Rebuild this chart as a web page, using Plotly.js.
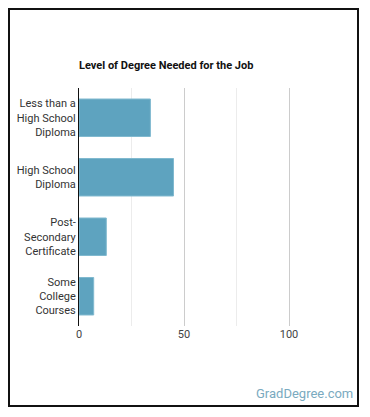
<!DOCTYPE html>
<html>
<head>
<meta charset="utf-8">
<script src="https://cdn.plot.ly/plotly-3.0.1.min.js"></script>
<style>
html,body{margin:0;padding:0;background:#fff;}
#chart{width:370px;height:417px;}
</style>
</head>
<body>
<div id="chart"></div>
<script>
const categories = ["Less than a<br>High School<br>Diploma", "High School<br>Diploma", "Post-<br>Secondary<br>Certificate", "Some<br>College<br>Courses"];
const values = [34, 45, 13, 7];
const titleText = "Level of Degree Needed for the Job";
const xTickVals = [0, 50, 100];

const W = 370, H = 417;
const L = 79, R = 331, T = 88, B = 326;
const px = (x) => (x - L) / (R - L);
const py = (y) => (B - y) / (B - T);

const trace = {
  type: 'bar',
  orientation: 'h',
  x: values,
  y: categories,
  marker: {color: '#5ea3bf', line: {color: '#80b9cf', width: 1}},
  width: 0.63,
  hoverinfo: 'none'
};

const layout = {
  width: W, height: H,
  margin: {l: L, r: W - R, t: T, b: H - B, pad: 0},
  paper_bgcolor: '#fff', plot_bgcolor: '#fff',
  font: {family: 'Roboto, sans-serif', size: 11, color: '#333'},
  showlegend: false,
  title: {
    text: titleText,
    font: {family: 'Roboto, sans-serif', size: 11, color: '#111', weight: 'bold'},
    xref: 'container', x: L / W, xanchor: 'left',
    yref: 'container', y: 1 - 65 / H, yanchor: 'middle'
  },
  xaxis: {
    range: [0, 120],
    tickvals: xTickVals,
    ticks: '',
    showgrid: true, gridcolor: '#cccccc', gridwidth: 1,
    minor: {dtick: 25, tick0: 0, showgrid: true, gridcolor: '#ececec', gridwidth: 1},
    zeroline: false,
    showline: false,
    tickfont: {size: 11, color: '#444'},
    fixedrange: true
  },
  yaxis: {
    type: 'category',
    autorange: 'reversed',
    ticks: '',
    showline: true, linecolor: '#111', linewidth: 1,
    showgrid: false,
    tickfont: {size: 11, color: '#333'},
    ticklabelstandoff: 0,
    fixedrange: true
  },
  shapes: [{
    type: 'rect', xref: 'paper', yref: 'paper',
    x0: px(9), x1: px(358), y0: py(406), y1: py(9),
    line: {color: '#111', width: 2}, fillcolor: 'rgba(0,0,0,0)'
  }],
  annotations: [{
    text: 'GradDegree.com', showarrow: false,
    xref: 'paper', yref: 'paper',
    x: px(355), xanchor: 'right',
    y: py(394), yanchor: 'middle',
    font: {family: 'Roboto, sans-serif', size: 13, color: '#7aaac0'}
  }]
};

Plotly.newPlot('chart', [trace], layout, {displayModeBar: false, staticPlot: true});
</script>
</body>
</html>
